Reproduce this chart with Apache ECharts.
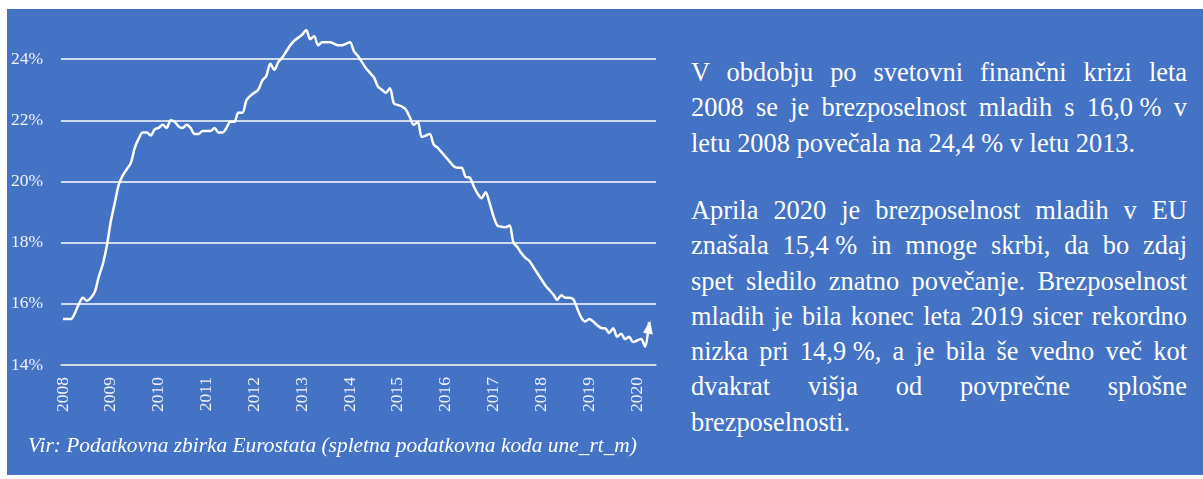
<!DOCTYPE html>
<html>
<head>
<meta charset="utf-8">
<script src="https://cdn.jsdelivr.net/npm/echarts@6/dist/echarts.min.js"></script>
<style>
  html, body { margin: 0; padding: 0; background: #fff; }
  body { width: 1203px; height: 479px; position: relative; overflow: hidden; font-family: "Liberation Serif", "Times New Roman", serif; }
  #panel { position: absolute; left: 7px; top: 9px; width: 1196px; height: 466px; background: #4472c4; }
  #chart { position: absolute; left: 0; top: 0; width: 670px; height: 466px; }
  .para { position: absolute; left: 684px; width: 496px; color: #fff; font-size: 26.4px; line-height: 35.3px; }
  .para div { text-align: justify; text-align-last: justify; }
  .para div.last { text-align: left; text-align-last: left; }
  .nb { display: inline-block; }
  #source { position: absolute; left: 21px; top: 426px; color: #fff; font-style: italic; font-size: 21.4px; line-height: 21.4px; white-space: nowrap; }
</style>
</head>
<body>
<div id="panel">
  <div id="chart"></div>
  <div class="para" style="top:46px">
    <div>V obdobju po svetovni finančni krizi leta</div>
    <div>2008 se je brezposelnost mladih s <span class="nb">16,0 %</span> v</div>
    <div class="last">letu 2008 povečala na 24,4 % v letu 2013.</div>
  </div>
  <div class="para" style="top:184px">
    <div>Aprila 2020 je brezposelnost mladih v EU</div>
    <div>znašala <span class="nb">15,4 %</span> in mnoge skrbi, da bo zdaj</div>
    <div>spet sledilo znatno povečanje. Brezposelnost</div>
    <div>mladih je bila konec leta 2019 sicer rekordno</div>
    <div>nizka pri <span class="nb">14,9 %,</span> a je bila še vedno več kot</div>
    <div>dvakrat višja od povprečne splošne</div>
    <div class="last">brezposelnosti.</div>
  </div>
  <div id="source">Vir: Podatkovna zbirka Eurostata (spletna podatkovna koda une_rt_m)</div>
</div>
<script>
// monthly youth unemployment rate in the EU, %
const rate2008 = [15.5, 15.5, 15.5, 15.7, 16.0, 16.2, 16.1, 16.2, 16.4, 16.9, 17.3, 17.9];
const rate2009 = [18.7, 19.3, 19.9, 20.2, 20.4, 20.6, 21.1, 21.4, 21.6, 21.6, 21.5, 21.7];
const rate2010 = [21.75, 21.85, 21.75, 22.0, 21.95, 21.8, 21.75, 21.85, 21.75, 21.55, 21.55, 21.65];
const rate2011 = [21.65, 21.65, 21.75, 21.6, 21.6, 21.75, 21.95, 21.95, 22.25, 22.25, 22.65, 22.8];
const rate2012 = [22.9, 23.0, 23.3, 23.45, 23.85, 23.65, 23.9, 24.05, 24.25, 24.45, 24.6, 24.7];
const rate2013 = [24.8, 24.95, 24.65, 24.75, 24.45, 24.55, 24.55, 24.55, 24.5, 24.45, 24.45, 24.5];
const rate2014 = [24.55, 24.25, 24.1, 23.9, 23.7, 23.55, 23.4, 23.1, 23.0, 22.9, 23.05, 22.55];
const rate2015 = [22.5, 22.45, 22.35, 22.1, 21.85, 21.95, 21.45, 21.5, 21.55, 21.2, 21.1, 20.95];
const rate2016 = [20.8, 20.65, 20.5, 20.45, 20.45, 20.15, 20.13, 19.85, 19.6, 19.45, 19.65, 19.3];
const rate2017 = [18.85, 18.55, 18.52, 18.5, 18.56, 18.0, 17.85, 17.65, 17.5, 17.4, 17.2, 17.0];
const rate2018 = [16.8, 16.6, 16.45, 16.3, 16.13, 16.28, 16.2, 16.2, 16.15, 15.85, 15.55, 15.42];
const rate2019 = [15.5, 15.42, 15.3, 15.21, 15.2, 15.05, 15.2, 14.92, 15.02, 14.85, 14.92, 14.75];
const rate2020 = [14.8, 14.85, 14.6, 15.4];

const yearLabels = ['2008', '2009', '2010', '2011', '2012', '2013', '2014',
  '2015', '2016', '2017', '2018', '2019', '2020'];
const yMin = 14, yMax = 25, yStep = 2;

const youthRate = [].concat(rate2008, rate2009, rate2010, rate2011, rate2012, rate2013,
  rate2014, rate2015, rate2016, rate2017, rate2018, rate2019, rate2020);

const labelFont = { color: '#f2f2f2', fontFamily: '"Liberation Serif", serif', fontSize: 17.5 };

const points = youthRate.map((v, i) => {
  if (i === youthRate.length - 1) {
    // arrow head on the last month
    return { value: [i, v], symbol: 'triangle', symbolSize: [10, 13], symbolRotate: -10, symbolOffset: [0, 5] };
  }
  return [i, v];
});

const chart = echarts.init(document.getElementById('chart'), null, { renderer: 'canvas' });
chart.setOption({
  animation: false,
  grid: { left: 54, top: 19.5, width: 595, height: 336.5, outerBoundsMode: 'none', containLabel: false },
  xAxis: {
    type: 'value',
    min: -0.5,
    max: 148.75,
    splitLine: { show: false },
    axisTick: { show: false },
    axisLine: { show: true, lineStyle: { color: '#d9d9d9', width: 1.5 } },
    axisLabel: Object.assign({
      customValues: yearLabels.map((y, i) => i * 12),
      formatter: v => yearLabels[Math.round(v / 12)],
      rotate: 90,
      margin: 12
    }, labelFont)
  },
  yAxis: {
    type: 'value',
    min: yMin,
    max: yMax,
    interval: yStep,
    axisLine: { show: false },
    axisTick: { show: false },
    splitLine: { showMaxLine: false, lineStyle: { color: '#ffffff', width: 1.5 } },
    axisLabel: Object.assign({ formatter: '{value}%', margin: 18, showMaxLabel: false }, labelFont)
  },
  series: [{
    type: 'line',
    data: points,
    symbol: 'none',
    showAllSymbol: true,
    smooth: 0.3,
    lineStyle: { color: '#ffffff', width: 2.5 },
    itemStyle: { color: '#ffffff' }
  }]
});
</script>
</body>
</html>
